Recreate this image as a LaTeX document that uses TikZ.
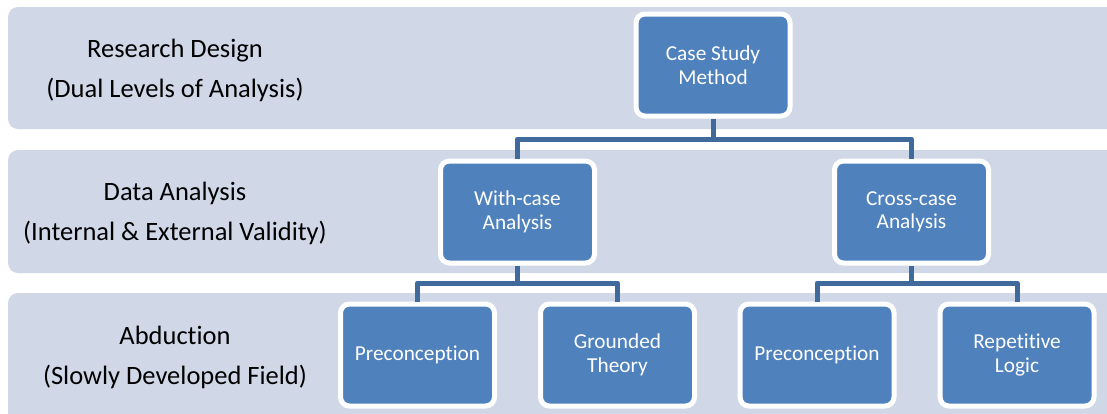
\documentclass[tikz,border=0pt]{standalone}
\usepackage{fontspec}
\setmainfont{Carlito}[Ligatures=NoCommon]
\definecolor{bandgray}{RGB}{208,216,232}
\definecolor{boxblue}{RGB}{79,129,189}
\definecolor{linkblue}{RGB}{65,106,156}
\tikzset{
  band/.style  = {fill=bandgray, rounded corners=10pt},
  lvl/.style   = {align=center, font=\fontsize{26.5}{40}\selectfont, text=black},
  box/.style   = {rectangle, rounded corners=9pt, draw=white, line width=5pt, fill=boxblue, minimum width=154pt, minimum height=102pt, align=center, text=white, font=\fontsize{21.3}{23.5}\selectfont},
  link/.style  = {linkblue, line width=5pt, line join=round},
}

\begin{document}
\begin{tikzpicture}[x=1pt, y=-1pt]
  \useasboundingbox (0,0) rectangle (1107,413);
  \clip (0,0) rectangle (1107,413);

  % level bands
  \fill[band] (8,7)   rectangle (1130,129);
  \fill[band] (8,150) rectangle (1130,273);
  \fill[band] (8,293) rectangle (1130,440);

  \node[lvl] (rd) at (175,70.5)  {Research Design\\(Dual Levels of Analysis)};
  \node[lvl] (da) at (175,213.5) {Data Analysis\\(Internal \& External Validity)};
  \node[lvl] (ab) at (175,357.5) {Abduction\\(Slowly Developed Field)};

  % tree
  \node[box] (csm)  at (713,65)    {Case Study\\Method};
  \node[box] (wca)  at (517.5,212) {With-case\\Analysis};
  \node[box] (cca)  at (911.5,212) {Cross-case\\Analysis};
  \node[box] (pre1) at (417.5,355) {Preconception};
  \node[box] (gt)   at (617.5,355) {Grounded\\Theory};
  \node[box] (pre2) at (817,355)   {Preconception};
  \node[box] (rl)   at (1017,355)  {Repetitive\\Logic};

  \coordinate (busA) at (csm.south |- 0,139);
  \coordinate (busB) at (wca.south |- 0,283);
  \coordinate (busC) at (cca.south |- 0,283);

  \draw[link] (csm.south) -- (busA);
  \draw[link] (wca.north) |- (busA) -| (cca.north);
  \draw[link] (wca.south) -- (busB);
  \draw[link] (pre1.north) |- (busB) -| (gt.north);
  \draw[link] (cca.south) -- (busC);
  \draw[link] (pre2.north) |- (busC) -| (rl.north);
\end{tikzpicture}
\end{document}
